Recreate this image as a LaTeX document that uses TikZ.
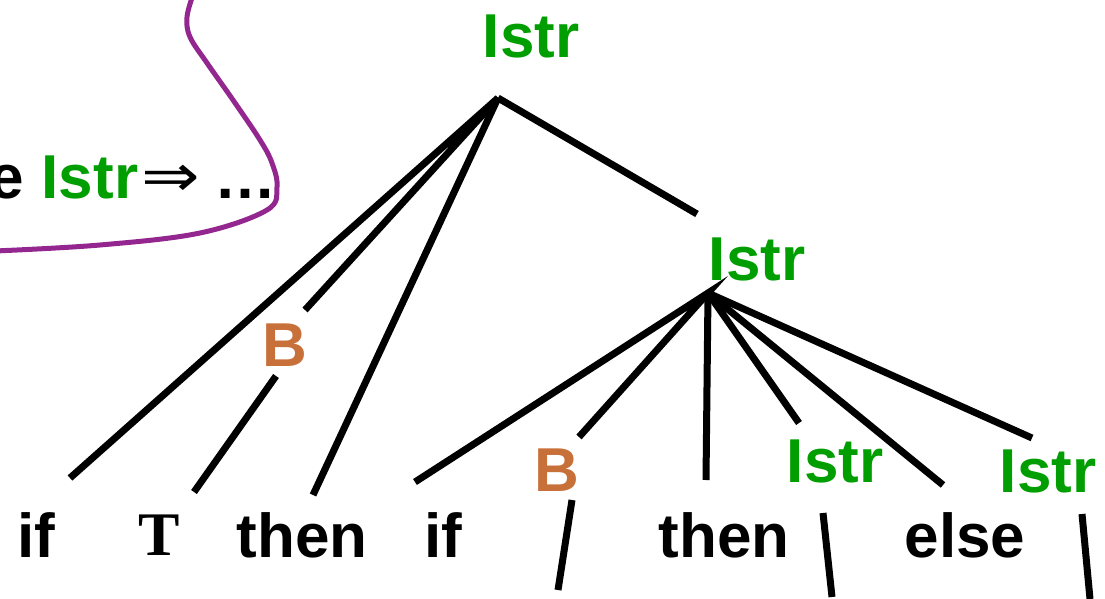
\documentclass[tikz,border=0pt]{standalone}
\usepackage{fontspec}
\setmainfont{Liberation Sans}
\newfontfamily\serifbold{Liberation Serif}
\newfontfamily\dejavu{DejaVu Sans}
\definecolor{ntgreen}{RGB}{0,158,0}
\definecolor{borange}{RGB}{200,112,58}
\definecolor{loop}{RGB}{147,39,143}
\begin{document}
\begin{tikzpicture}[x=1pt,y=-1pt,
  lbl/.style={font=\fontsize{62}{70}\selectfont\bfseries, inner sep=0pt, anchor=base},
  nterm/.style={lbl, text=ntgreen},
  bnode/.style={lbl, text=borange},
  edge/.style={line width=7pt, line cap=butt, line join=miter},
  curve/.style={line width=5pt, draw=loop}]
\clip (0,0) rectangle (1105,599);
% labels
\node[nterm] (root) at (531,58) {Istr};
\node[nterm] (istr2) at (757,280) {Istr};
\node[bnode] (b1) at (285,366) {B};
\node[bnode] (b2) at (557,491) {B};
\node[nterm] (istr3) at (835,482) {Istr};
\node[nterm] (istr4) at (1048,492) {Istr};
\node[lbl] (if1) at (36,557) {if};
\node[lbl, font=\fontsize{62}{70}\serifbold\bfseries] (T) at (159,555) {T};
\node[lbl] (then1) at (302,557) {then};
\node[lbl] (if2) at (443,557) {if};
\node[lbl] (then2) at (724,557) {then};
\node[lbl] (else) at (965,557) {else};
% top-left text
\node[lbl, anchor=base east] (e) at (24,198) {e};
\node[nterm] (istrl) at (90,198) {Istr};
\node[inner sep=0pt, anchor=center, font=\dejavu\fontsize{70}{72}\selectfont] (imp) at (171,181) {\scalebox{1}[0.85]{⇒}};
\node[lbl] (dots) at (245,198) {…};
% connector end points
\coordinate (a1) at (498,98);
\coordinate (c1) at (70,478);
\coordinate (c2) at (305,310);
\coordinate (c3) at (313,495);
\coordinate (c4) at (697,214);
\coordinate (b1t) at (276,376);
\coordinate (b1e) at (194,492);
\coordinate (a2) at (708,293);
\coordinate (d1) at (415,482);
\coordinate (d2) at (579,437);
\coordinate (d3) at (706,480);
\coordinate (d4) at (799,423);
\coordinate (d5) at (943,485);
\coordinate (d6) at (1032,438);
\coordinate (s1a) at (572,500);
\coordinate (s1b) at (558,590);
\coordinate (s2a) at (823,513);
\coordinate (s2b) at (832,597);
\coordinate (s3a) at (1082,514);
\coordinate (s3b) at (1090,599);
% connectors
\draw[edge] (c1) -- (a1) -- (c2);
\draw[edge] (a1) -- (c3);
\draw[edge] (a1) -- (c4);
\draw[edge] (b1t) -- (b1e);
\draw[edge] (d1) -- (a2) -- (d2);
\draw[edge] (a2) -- (d3);
\draw[edge] (a2) -- (d4);
\draw[edge] (a2) -- (d5);
\draw[edge] (a2) -- (d6);
\draw[edge] (s1a) -- (s1b);
\draw[edge] (s2a) -- (s2b);
\draw[edge] (s3a) -- (s3b);
% purple loop
\draw[curve] plot[smooth, tension=0.6] coordinates {(193,-5) (187,17) (190,37) (207,63) (233,100) (260,140) (272,163) (277,187) (267,210) (200,233) (100,245) (-5,251)};
\end{tikzpicture}
\end{document}
